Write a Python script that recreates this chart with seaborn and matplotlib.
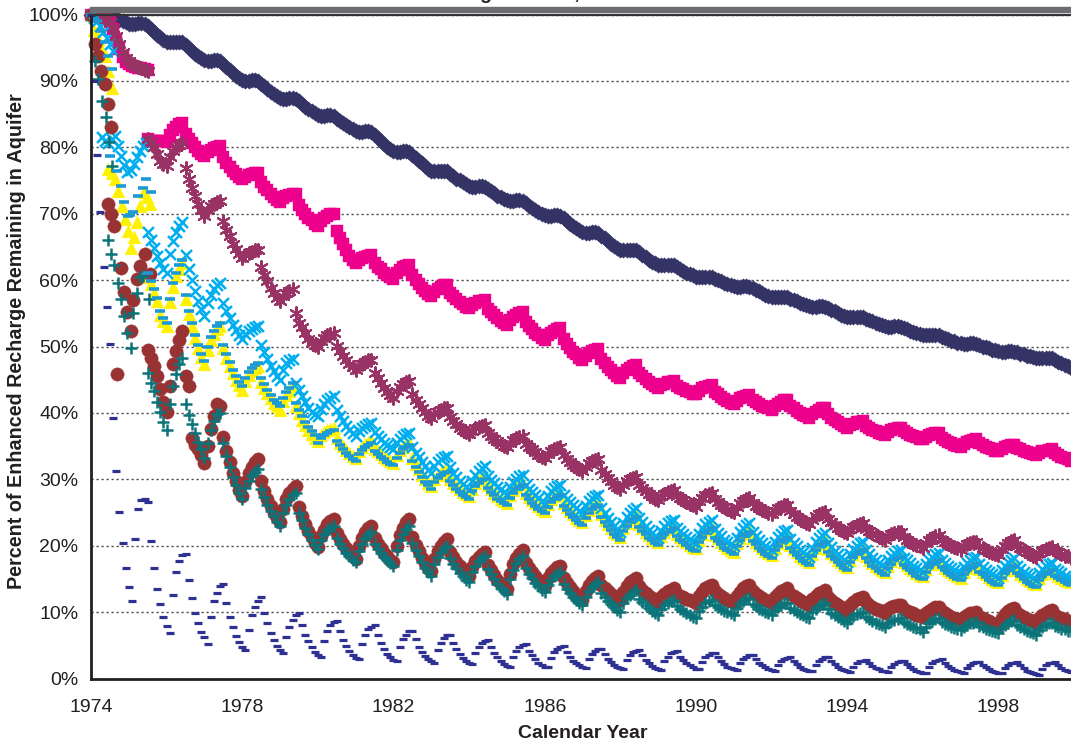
import numpy as np
import pandas as pd
import matplotlib
matplotlib.use("Agg")
import matplotlib.pyplot as plt
import seaborn as sns
from matplotlib.patches import Rectangle

START_YEAR = 1974
MAIN_START_MONTH = 18   # main segments begin July 1975

# ---------------- data (percent remaining, monthly) ----------------
navy_diamond = [
 100.0,100.0,100.0,100.0,100.0,100.0,99.9,99.6,99.4,99.2,99.0,98.8,
 98.6,98.6,98.6,98.7,98.7,98.6,98.2,97.8,97.3,96.9,96.6,96.2,
 95.9,95.8,95.8,95.9,95.9,95.8,95.4,95.0,94.5,94.1,93.8,93.4,
 93.1,93.0,93.0,93.1,93.1,93.0,92.6,92.1,91.7,91.2,90.8,90.5,
 90.1,90.0,90.0,90.1,90.1,90.0,89.6,89.2,88.8,88.4,88.1,87.7,
 87.4,87.3,87.3,87.4,87.4,87.3,86.9,86.5,86.1,85.7,85.4,85.1,
 84.8,84.7,84.7,84.8,84.8,84.7,84.3,84.0,83.6,83.3,83.0,82.7,
 82.4,82.3,82.3,82.4,82.4,82.3,81.9,81.4,81.0,80.5,80.1,79.7,
 79.4,79.3,79.3,79.4,79.4,79.3,78.9,78.4,78.0,77.6,77.2,76.8,
 76.5,76.4,76.4,76.5,76.5,76.4,76.0,75.7,75.3,75.0,74.7,74.4,
 74.1,74.0,74.0,74.1,74.1,74.0,73.7,73.4,73.1,72.7,72.5,72.2,
 72.0,71.9,71.9,72.0,72.0,71.9,71.6,71.2,70.9,70.6,70.3,70.0,
 69.8,69.7,69.7,69.8,69.8,69.7,69.3,68.9,68.5,68.1,67.8,67.5,
 67.2,67.1,67.1,67.2,67.2,67.1,66.7,66.3,65.9,65.5,65.2,64.9,
 64.6,64.5,64.5,64.6,64.6,64.5,64.2,63.8,63.5,63.1,62.8,62.5,
 62.3,62.2,62.2,62.3,62.3,62.2,61.9,61.7,61.4,61.1,60.9,60.7,
 60.5,60.4,60.4,60.5,60.5,60.4,60.2,60.0,59.8,59.6,59.4,59.2,
 59.1,59.0,59.0,59.1,59.1,59.0,58.8,58.5,58.3,58.0,57.8,57.6,
 57.5,57.4,57.4,57.5,57.5,57.4,57.2,57.0,56.8,56.6,56.4,56.2,
 56.1,56.0,56.0,56.1,56.1,56.0,55.8,55.5,55.3,55.0,54.8,54.6,
 54.5,54.4,54.4,54.5,54.5,54.4,54.2,54.0,53.8,53.6,53.4,53.2,
 53.1,53.0,53.0,53.1,53.1,53.0,52.8,52.6,52.4,52.2,52.1,51.9,
 51.8,51.7,51.7,51.8,51.8,51.7,51.5,51.3,51.1,50.9,50.8,50.6,
 50.5,50.4,50.4,50.5,50.5,50.4,50.2,50.0,49.9,49.7,49.5,49.4,
 49.3,49.2,49.2,49.3,49.3,49.2,49.1,48.9,48.8,48.6,48.5,48.4,
 48.3,48.2,48.2,48.3,48.3,48.2,48.0,47.7,47.5,47.2,47.0,46.8]

navy_dash = [
 100.0,90.0,78.8,70.2,62.0,56.0,50.4,39.3,31.3,25.1,20.4,16.7,
 13.8,11.7,21.0,25.6,26.9,27.1,26.6,20.7,16.7,13.5,11.2,9.3,
 7.9,6.9,12.6,16.0,17.7,18.6,18.8,14.9,12.1,9.9,8.4,7.0,
 6.2,5.2,9.2,11.6,12.9,14.0,14.3,11.4,9.3,7.8,6.4,5.5,
 4.8,4.3,7.3,9.5,10.8,11.7,12.2,9.9,8.3,6.9,5.8,4.9,
 4.3,3.8,6.3,7.8,8.8,9.6,9.9,8.0,6.6,5.6,4.8,4.0,
 3.5,3.2,5.7,7.2,8.0,8.5,8.7,7.1,5.8,4.9,4.1,3.5,
 3.1,2.9,5.2,6.6,7.4,7.8,8.0,6.5,5.3,4.4,3.7,3.2,
 2.8,2.6,4.7,5.9,6.6,7.1,7.2,5.9,4.8,4.0,3.4,2.9,
 2.6,2.4,4.3,5.4,6.1,6.5,6.6,5.4,4.4,3.7,3.1,2.7,
 2.4,2.2,3.8,4.8,5.4,5.7,5.8,4.7,3.8,3.2,2.6,2.2,
 1.9,1.8,3.3,4.2,4.8,5.1,5.2,4.2,3.5,2.9,2.4,2.1,
 1.8,1.7,3.1,4.0,4.5,4.8,4.9,4.0,3.3,2.7,2.3,2.0,
 1.7,1.6,2.9,3.7,4.2,4.4,4.5,3.7,3.0,2.5,2.1,1.8,
 1.6,1.5,2.8,3.5,4.0,4.2,4.3,3.5,2.8,2.3,1.9,1.6,
 1.4,1.3,2.6,3.3,3.8,4.0,4.1,3.3,2.8,2.3,2.0,1.7,
 1.5,1.4,2.5,3.2,3.6,3.8,3.9,3.2,2.6,2.2,1.8,1.6,
 1.4,1.3,2.3,3.0,3.3,3.5,3.6,2.9,2.4,2.0,1.7,1.5,
 1.3,1.2,2.1,2.6,3.0,3.1,3.2,2.6,2.2,1.8,1.5,1.3,
 1.2,1.1,2.1,2.7,3.0,3.2,3.3,2.7,2.2,1.8,1.5,1.3,
 1.1,1.0,1.8,2.3,2.6,2.7,2.8,2.3,1.9,1.6,1.4,1.2,
 1.1,1.0,1.8,2.2,2.5,2.6,2.7,2.2,1.8,1.4,1.2,1.0,
 0.9,0.8,1.7,2.3,2.6,2.8,2.9,2.3,1.9,1.6,1.3,1.1,
 1.0,0.9,1.6,2.1,2.3,2.5,2.5,2.0,1.7,1.4,1.2,1.0,
 0.9,0.8,1.6,2.0,2.3,2.4,2.5,2.0,1.6,1.2,1.0,0.8,
 0.7,0.6,1.5,2.0,2.3,2.4,2.5,2.0,1.6,1.3,1.1,1.0]

# first segments, Jan 1974 - Jul 1975 (monthly)
magenta_early = [100.0,100.0,99.9,99.8,99.6,99.3,98.8,97.8,96.3,94.8,93.6,92.9,
                 92.5,92.3,92.1,92.0,91.9,91.8,91.6]
purple_early = [100.0,100.0,99.9,99.8,99.6,99.3,98.8,98.0,96.8,95.5,94.3,93.5,
                93.0,92.6,92.3,92.1,91.9,91.7,91.5]

# irregular early points (decimal year, percent)
cyan_early_x = [1974.00,1974.08,1974.17,1974.25,1974.33,1974.42,1974.50,1974.58,
                1974.30,1974.38,1974.46,1974.55,1974.63,1974.71,1974.80,1974.88,
                1974.96,1975.05,1975.13,1975.21,1975.30,1975.38,1975.46]
cyan_early_y = [100.0,99.5,99.0,98.2,97.4,96.5,95.5,94.5,
                81.5,81.0,80.7,81.2,81.7,80.2,78.7,77.3,
                76.3,76.6,77.5,78.5,79.5,80.2,80.7]
yellow_early_x = [1974.00,1974.09,1974.18,1974.27,1974.37,1974.46,1974.55,
                  1974.46,1974.55,1974.63,1974.72,1974.81,1974.90,1974.98,1975.06,
                  1975.14,1975.22,1975.30,1975.39,1975.47,1975.56]
yellow_early_y = [100.0,97.6,96.3,95.0,93.8,91.5,89.0,
                  76.8,76.2,75.2,73.4,71.2,69.2,67.4,64.9,
                  66.5,68.7,71.2,73.2,72.5,71.4]
bluedash_early_x = [1974.00,1974.08,1974.15,1974.26,1974.37,1974.46,1974.55,
                    1974.50,1974.68,1974.79,1974.88,1974.97,1975.04,1975.12,
                    1975.25,1975.38,1975.45,1975.58]
bluedash_early_y = [100.0,99.5,99.0,97.5,95.8,93.8,91.8,
                    78.7,76.4,74.2,71.8,69.7,69.8,70.3,
                    72.6,73.9,75.3,73.2]
brown_early_x = [1974.00,1974.11,1974.19,1974.26,1974.37,1974.45,1974.53,
                 1974.44,1974.53,1974.62,1974.70,1974.79,1974.88,1974.96,1975.05,
                 1975.12,1975.21,1975.30,1975.43,1975.56]
brown_early_y = [100.0,95.6,93.8,91.5,89.5,86.5,83.0,
                 71.5,70.0,68.1,45.9,61.8,58.2,55.2,52.3,
                 57.0,60.1,62.1,63.9,60.9]
teal_early_x = [1974.00,1974.11,1974.19,1974.28,1974.39,1974.47,1974.55,
                1974.46,1974.54,1974.62,1974.71,1974.79,1974.88,1974.96,1975.05,
                1975.12,1975.21,1975.30,1975.38,1975.54]
teal_early_y = [100.0,93.0,90.3,87.0,84.5,80.8,77.2,
                66.0,64.0,62.2,59.5,57.1,54.6,52.1,49.8,
                55.1,58.1,60.4,60.6,57.2]

# main segments, Jul 1975 - Dec 1999 (monthly)
magenta_main = [
 81.2,81.0,81.0,80.9,80.9,80.9,
 80.8,81.9,82.6,83.1,83.5,83.7,82.0,81.2,80.6,80.0,79.5,79.0,
 78.7,79.3,79.6,79.9,80.1,80.2,78.5,77.7,77.1,76.5,76.0,75.5,
 75.2,75.6,75.8,76.0,76.1,76.2,74.7,74.0,73.5,72.9,72.5,72.1,
 71.8,72.3,72.6,72.8,72.9,73.0,71.3,70.6,70.0,69.4,69.0,68.5,
 68.2,68.9,69.3,69.6,69.9,70.0,67.4,66.3,65.4,64.5,63.7,63.0,
 62.5,63.0,63.3,63.5,63.7,63.8,62.5,62.0,61.6,61.1,60.8,60.5,
 60.2,61.0,61.5,61.9,62.1,62.3,60.7,60.0,59.4,58.8,58.4,57.9,
 57.6,58.2,58.7,59.0,59.2,59.3,58.1,57.6,57.1,56.7,56.4,56.0,
 55.8,56.3,56.6,56.8,56.9,57.0,55.7,55.2,54.7,54.3,53.9,53.6,
 53.3,54.0,54.5,54.8,55.0,55.2,53.7,53.1,52.6,52.1,51.7,51.3,
 51.0,51.7,52.1,52.4,52.7,52.8,51.1,50.4,49.8,49.2,48.8,48.3,
 48.0,48.6,49.0,49.3,49.5,49.6,48.1,47.5,46.9,46.4,46.0,45.6,
 45.3,46.0,46.5,46.8,47.0,47.2,46.0,45.5,45.1,44.7,44.3,44.0,
 43.8,44.2,44.4,44.6,44.7,44.8,44.1,43.8,43.6,43.3,43.1,42.9,
 42.8,43.3,43.7,43.9,44.1,44.2,43.2,42.8,42.4,42.1,41.8,41.5,
 41.3,41.8,42.2,42.4,42.6,42.7,41.9,41.6,41.3,41.1,40.9,40.7,
 40.5,41.1,41.4,41.7,41.9,42.0,41.1,40.7,40.3,40.0,39.7,39.5,
 39.3,39.9,40.2,40.5,40.7,40.8,39.8,39.3,38.9,38.6,38.3,38.0,
 37.8,38.2,38.4,38.6,38.7,38.8,38.1,37.8,37.5,37.2,37.0,36.8,
 36.7,37.1,37.4,37.6,37.7,37.8,37.2,36.9,36.7,36.5,36.3,36.1,
 36.0,36.4,36.6,36.8,36.9,37.0,36.2,35.9,35.6,35.4,35.2,35.0,
 34.8,35.3,35.6,35.8,35.9,36.0,35.4,35.1,34.9,34.7,34.5,34.3,
 34.2,34.6,34.8,35.0,35.1,35.2,34.7,34.5,34.3,34.1,33.9,33.8,
 33.7,34.0,34.2,34.3,34.4,34.5,33.9,33.6,33.4,33.2,33.0,32.8]

purple_main = [
 81.2,80.8,80.0,79.0,78.0,77.5,
 77.2,78.5,79.4,80.0,80.4,80.7,76.9,75.2,73.9,72.6,71.5,70.5,
 69.7,70.5,71.1,71.5,71.7,71.9,68.9,67.6,66.6,65.5,64.7,63.9,
 63.3,63.8,64.1,64.3,64.5,64.6,61.9,60.7,59.8,58.8,58.0,57.3,
 56.8,57.6,58.1,58.4,58.6,55.0,53.5,53.0,52.0,51.2,50.6,50.2,
 50.0,50.8,51.3,51.7,51.9,52.1,50.1,49.3,48.6,48.0,47.4,46.9,
 46.5,47.1,47.4,47.7,47.9,48.0,46.0,45.2,44.5,43.8,43.2,42.7,
 42.3,43.3,43.9,44.3,44.6,44.8,42.8,42.0,41.3,40.7,40.1,39.6,
 39.2,39.8,40.2,40.5,40.7,40.8,39.4,38.8,38.3,37.8,37.4,37.1,
 36.8,37.3,37.7,37.9,38.1,38.2,37.0,36.5,36.1,35.7,35.3,35.0,
 34.8,35.4,35.9,36.2,36.4,36.5,35.3,34.9,34.5,34.1,33.7,33.4,
 33.2,33.8,34.2,34.5,34.7,34.8,33.6,33.1,32.6,32.2,31.9,31.5,
 31.3,31.9,32.4,32.7,32.9,33.0,31.4,30.8,30.2,29.7,29.2,28.8,
 28.5,29.2,29.7,30.0,30.2,30.4,29.2,28.7,28.2,27.8,27.5,27.1,
 26.9,27.5,27.8,28.1,28.3,28.4,27.5,27.2,26.9,26.6,26.3,26.1,
 25.9,26.7,27.2,27.6,27.8,28.0,27.0,26.6,26.2,25.9,25.6,25.3,
 25.1,25.9,26.4,26.8,27.0,27.2,26.4,26.0,25.7,25.4,25.2,25.0,
 24.8,25.3,25.7,25.9,26.1,26.2,25.2,24.7,24.3,24.0,23.7,23.4,
 23.2,23.9,24.4,24.7,24.9,25.1,24.0,23.5,23.1,22.7,22.4,22.1,
 21.9,22.5,22.8,23.1,23.3,23.4,22.5,22.2,21.9,21.6,21.3,21.1,
 20.9,21.4,21.7,21.9,22.0,22.1,21.3,20.9,20.6,20.3,20.1,19.9,
 19.7,20.4,20.9,21.2,21.4,21.6,20.8,20.5,20.2,20.0,19.8,19.6,
 19.4,19.9,20.2,20.4,20.5,20.6,19.9,19.6,19.4,19.1,18.9,18.7,
 18.6,19.5,20.0,20.4,20.7,20.9,20.0,19.6,19.3,19.0,18.7,18.5,
 18.3,18.9,19.2,19.5,19.7,19.8,19.2,19.0,18.7,18.5,18.4,18.2]

cyan_main = [
 67.2,66.0,64.8,63.6,62.5,61.6,
 61.0,63.9,65.9,67.2,68.1,68.7,63.8,61.7,60.0,58.3,56.9,55.6,
 54.6,56.5,57.8,58.6,59.2,59.6,56.6,55.4,54.3,53.3,52.5,51.7,
 51.1,51.9,52.4,52.7,52.9,53.1,50.3,49.1,48.1,47.1,46.3,45.6,
 45.0,46.5,47.5,48.0,48.1,44.5,43.5,42.5,41.6,40.8,40.2,39.8,
 39.5,40.6,41.4,41.9,42.3,42.5,40.4,39.5,38.8,38.1,37.5,36.9,
 36.5,37.3,37.8,38.1,38.3,38.5,37.1,36.5,36.0,35.5,35.1,34.8,
 34.5,35.5,36.1,36.5,36.8,37.0,34.9,34.0,33.3,32.6,32.0,31.4,
 31.0,32.0,32.6,33.0,33.3,33.5,31.8,31.0,30.4,29.8,29.3,28.9,
 28.5,29.8,30.7,31.3,31.7,32.0,30.5,29.9,29.4,28.9,28.5,28.1,
 27.8,28.9,29.6,30.1,30.5,30.7,29.2,28.6,28.1,27.6,27.2,26.8,
 26.5,27.5,28.2,28.7,29.0,29.2,27.7,27.1,26.6,26.1,25.7,25.3,
 25.0,26.0,26.7,27.2,27.5,27.7,25.7,24.9,24.2,23.5,22.9,22.4,
 22.0,23.4,24.3,25.0,25.4,25.7,24.1,23.5,22.9,22.4,21.9,21.5,
 21.2,22.2,22.9,23.4,23.7,23.9,22.7,22.2,21.7,21.3,21.0,20.6,
 20.4,21.7,22.6,23.2,23.6,23.9,22.5,21.9,21.4,20.9,20.5,20.2,
 19.9,21.2,22.1,22.7,23.1,23.4,22.0,21.4,20.9,20.4,20.0,19.7,
 19.4,20.5,21.3,21.8,22.2,22.4,21.0,20.4,19.9,19.4,19.0,18.6,
 18.3,19.7,20.6,21.2,21.6,21.9,20.4,19.8,19.2,18.7,18.3,17.9,
 17.6,18.7,19.5,20.0,20.4,20.6,19.3,18.7,18.2,17.8,17.4,17.1,
 16.8,17.8,18.4,18.9,19.2,19.4,18.2,17.8,17.4,17.0,16.6,16.3,
 16.1,17.2,17.9,18.3,18.7,18.9,17.9,17.4,17.0,16.7,16.4,16.1,
 15.9,16.8,17.4,17.8,18.1,18.3,17.2,16.8,16.4,16.0,15.7,15.4,
 15.2,16.3,17.0,17.5,17.9,18.1,17.0,16.5,16.1,15.7,15.4,15.1,
 14.9,15.9,16.5,16.9,17.2,17.4,16.5,16.2,15.9,15.5,15.3,15.0]

yellow_main = [
 60.5,59.4,58.1,56.8,54.8,53.8,
 53.1,56.7,59.0,60.6,61.7,62.5,57.2,54.9,53.1,51.3,49.7,48.4,
 47.3,49.5,51.0,51.9,52.6,53.1,49.7,48.3,47.1,46.0,45.0,44.2,
 43.5,44.8,45.7,46.3,46.7,47.0,44.7,43.8,43.0,42.2,41.5,41.0,
 40.5,41.8,42.7,43.3,44.0,41.0,40.0,39.0,38.2,37.4,36.8,36.2,
 35.8,36.6,37.1,37.4,37.6,37.8,36.2,35.5,35.0,34.4,33.9,33.5,
 33.2,34.2,34.8,35.3,35.6,35.8,34.6,34.2,33.8,33.4,33.0,32.7,
 32.5,33.6,34.4,34.9,35.3,35.5,33.2,32.3,31.5,30.7,30.0,29.5,
 29.0,30.0,30.6,31.0,31.3,31.5,30.1,29.5,29.0,28.5,28.1,27.8,
 27.5,28.6,29.4,29.9,30.3,30.5,29.1,28.5,28.0,27.5,27.1,26.8,
 26.5,27.6,28.4,28.9,29.3,29.5,28.0,27.4,26.9,26.4,26.0,25.6,
 25.3,26.3,27.0,27.5,27.8,28.0,26.4,25.8,25.2,24.7,24.2,23.8,
 23.5,24.6,25.4,25.9,26.3,26.5,24.7,23.9,23.3,22.7,22.1,21.7,
 21.3,22.6,23.4,24.0,24.4,24.7,23.2,22.6,22.1,21.6,21.2,20.8,
 20.5,21.5,22.1,22.5,22.8,23.0,21.8,21.3,20.9,20.5,20.1,19.8,
 19.6,20.9,21.7,22.3,22.7,23.0,21.6,21.1,20.6,20.1,19.7,19.4,
 19.1,20.4,21.2,21.8,22.2,22.5,21.1,20.6,20.1,19.6,19.2,18.9,
 18.6,19.7,20.4,20.9,21.3,21.5,20.1,19.5,19.0,18.5,18.1,17.8,
 17.5,18.8,19.7,20.3,20.7,21.0,19.5,18.9,18.4,17.9,17.5,17.1,
 16.8,17.9,18.7,19.2,19.6,19.8,18.5,17.9,17.4,17.0,16.6,16.3,
 16.0,17.0,17.7,18.2,18.5,18.7,17.5,17.1,16.7,16.3,15.9,15.6,
 15.4,16.5,17.2,17.6,18.0,18.2,17.2,16.7,16.3,16.0,15.7,15.4,
 15.2,16.1,16.7,17.1,17.4,17.6,16.5,16.1,15.7,15.3,15.0,14.7,
 14.5,15.6,16.3,16.8,17.2,17.4,16.3,15.8,15.4,15.0,14.7,14.4,
 14.2,15.2,15.8,16.2,16.5,16.7,15.9,15.5,15.2,14.9,14.7,14.5]

bluedash_main = [
 61.0,59.9,58.6,57.3,55.3,54.3,
 53.6,57.2,59.5,61.1,62.2,63.0,57.7,55.4,53.6,51.8,50.2,48.9,
 47.8,50.0,51.5,52.4,53.1,53.6,50.2,48.8,47.6,46.5,45.5,44.7,
 44.0,45.3,46.2,46.8,47.2,47.5,45.2,44.3,43.5,42.7,42.0,41.5,
 41.0,42.3,43.2,43.8,44.5,41.5,40.5,39.5,38.7,37.9,37.3,36.7,
 35.4,36.2,36.7,37.0,37.2,37.4,35.8,35.1,34.6,34.0,33.5,33.1,
 32.8,33.8,34.4,34.9,35.2,35.4,34.2,33.8,33.4,33.0,32.6,32.3,
 32.1,33.2,34.0,34.5,34.9,35.1,32.8,31.9,31.1,30.3,29.6,29.1,
 28.6,29.6,30.2,30.6,30.9,31.1,29.7,29.1,28.6,28.1,27.7,27.4,
 27.1,28.2,29.0,29.5,29.9,30.1,28.7,28.1,27.6,27.1,26.7,26.4,
 26.1,27.2,28.0,28.5,28.9,29.1,27.6,27.0,26.5,26.0,25.6,25.2,
 24.9,25.9,26.6,27.1,27.4,27.6,26.0,25.4,24.8,24.3,23.8,23.4,
 23.1,24.2,25.0,25.5,25.9,26.1,24.3,23.5,22.9,22.3,21.7,21.3,
 20.9,22.2,23.0,23.6,24.0,24.3,22.8,22.2,21.7,21.2,20.8,20.4,
 20.1,21.1,21.7,22.1,22.4,22.6,21.4,20.9,20.5,20.1,19.7,19.4,
 19.2,20.5,21.3,21.9,22.3,22.6,21.2,20.7,20.2,19.7,19.3,19.0,
 18.7,20.0,20.8,21.4,21.8,22.1,20.7,20.2,19.7,19.2,18.8,18.5,
 18.2,19.3,20.0,20.5,20.9,21.1,19.7,19.1,18.6,18.1,17.7,17.4,
 17.1,18.4,19.3,19.9,20.3,20.6,19.1,18.5,18.0,17.5,17.1,16.7,
 16.4,17.5,18.3,18.8,19.2,19.4,18.1,17.5,17.0,16.6,16.2,15.9,
 15.6,16.6,17.3,17.8,18.1,18.3,17.1,16.7,16.3,15.9,15.5,15.2,
 15.0,16.1,16.8,17.2,17.6,17.8,16.8,16.3,15.9,15.6,15.3,15.0,
 14.8,15.7,16.3,16.7,17.0,17.2,16.1,15.7,15.3,14.9,14.6,14.3,
 14.1,15.2,15.9,16.4,16.8,17.0,15.9,15.4,15.0,14.6,14.3,14.0,
 13.8,14.8,15.4,15.8,16.1,16.3,15.5,15.1,14.8,14.5,14.3,14.1]

brown_main = [
 49.5,48.3,47.0,45.5,43.6,41.7,
 40.2,44.0,47.3,49.3,51.0,52.3,45.5,44.0,36.2,35.2,34.5,33.6,
 32.5,35.0,37.6,39.5,41.3,41.0,36.3,34.3,32.6,31.0,29.7,28.4,
 27.5,29.6,31.0,31.9,32.6,33.0,29.7,28.3,27.1,26.0,25.0,24.2,
 23.5,25.6,27.0,27.9,28.6,29.0,25.8,24.4,23.3,22.2,21.3,20.4,
 19.8,21.4,22.4,23.2,23.7,24.0,21.9,21.0,20.3,19.6,19.0,18.4,
 18.0,19.9,21.2,22.0,22.6,23.0,21.1,20.3,19.6,18.9,18.4,17.9,
 17.5,20.0,21.6,22.7,23.5,24.0,21.3,20.1,19.2,18.2,17.4,16.7,
 16.2,18.0,19.2,20.0,20.6,21.0,19.1,18.3,17.6,16.9,16.4,15.9,
 15.5,16.8,17.7,18.3,18.7,19.0,17.1,16.3,15.6,14.9,14.4,13.9,
 13.5,15.7,17.2,18.1,18.8,19.3,17.4,16.7,16.0,15.4,14.8,14.4,
 14.0,15.1,15.9,16.4,16.8,17.0,15.2,14.4,13.8,13.2,12.6,12.2,
 11.8,13.2,14.1,14.7,15.1,15.4,14.1,13.6,13.2,12.7,12.4,12.1,
 11.8,13.1,13.9,14.5,14.9,15.2,13.9,13.4,12.9,12.5,12.1,11.8,
 11.5,12.3,12.8,13.2,13.4,13.6,12.8,12.5,12.2,12.0,11.8,11.6,
 11.4,12.4,13.1,13.6,13.9,14.1,13.2,12.8,12.4,12.1,11.8,11.6,
 11.4,12.4,13.1,13.6,13.9,14.1,13.2,12.8,12.4,12.1,11.8,11.6,
 11.4,12.2,12.8,13.2,13.4,13.6,12.7,12.4,12.1,11.8,11.5,11.3,
 11.1,11.9,12.5,12.9,13.1,13.3,12.2,11.8,11.4,11.0,10.7,10.4,
 10.2,11.0,11.5,11.9,12.1,12.3,11.5,11.1,10.8,10.5,10.3,10.1,
 9.9,10.4,10.7,10.9,11.0,11.1,10.5,10.2,10.0,9.8,9.6,9.4,
 9.3,9.9,10.2,10.5,10.7,10.8,10.1,9.8,9.6,9.3,9.1,8.9,
 8.8,9.3,9.6,9.8,9.9,10.0,9.3,9.1,8.8,8.6,8.4,8.2,
 8.1,9.1,9.7,10.1,10.4,10.6,9.8,9.5,9.2,9.0,8.8,8.6,
 8.4,9.1,9.6,9.9,10.1,10.3,9.6,9.3,9.1,8.9,8.7,8.5]

teal_main = [
 46.0,44.5,43.3,41.7,40.2,38.7,
 37.5,41.3,44.1,45.9,47.3,48.3,41.3,39.7,38.4,37.0,35.6,34.5,
 33.2,35.5,37.5,38.8,39.8,40.0,35.5,33.5,31.9,30.4,29.1,27.9,
 27.0,28.7,29.8,30.6,31.1,31.5,28.5,27.3,26.2,25.2,24.4,23.6,
 23.0,24.9,26.2,27.0,27.6,28.0,25.0,23.8,22.7,21.7,20.9,20.1,
 19.5,20.8,21.7,22.3,22.7,23.0,21.1,20.3,19.6,18.9,18.4,17.9,
 17.5,19.2,20.3,21.1,21.6,22.0,20.3,19.5,18.9,18.3,17.8,17.4,
 17.0,19.3,20.8,21.8,22.5,23.0,20.4,19.3,18.4,17.5,16.7,16.0,
 15.5,17.2,18.3,19.1,19.6,20.0,18.1,17.3,16.6,15.9,15.4,14.9,
 14.5,16.0,17.0,17.7,18.2,18.5,16.5,15.7,15.0,14.3,13.7,13.2,
 12.8,15.0,16.4,17.4,18.0,18.5,16.6,15.8,15.1,14.4,13.9,13.4,
 13.0,14.1,14.9,15.4,15.8,16.0,14.3,13.5,12.9,12.3,11.8,11.4,
 11.0,12.3,13.2,13.8,14.2,14.5,12.9,12.3,11.7,11.2,10.7,10.3,
 10.0,11.3,12.1,12.6,13.0,13.3,12.0,11.5,11.0,10.6,10.2,9.9,
 9.6,10.4,11.0,11.4,11.6,11.8,10.9,10.5,10.1,9.8,9.5,9.3,
 9.1,10.1,10.8,11.3,11.6,11.8,11.0,10.7,10.4,10.2,10.0,9.8,
 9.6,10.6,11.2,11.6,11.9,12.1,11.2,10.9,10.5,10.3,10.0,9.8,
 9.6,10.3,10.7,11.0,11.3,11.4,10.6,10.3,10.0,9.7,9.5,9.3,
 9.1,10.0,10.5,10.9,11.2,11.4,10.4,9.9,9.5,9.2,8.9,8.6,
 8.4,9.0,9.4,9.7,9.9,10.0,9.2,8.9,8.6,8.4,8.2,8.0,
 7.8,8.3,8.6,8.8,9.0,9.1,8.5,8.2,8.0,7.8,7.6,7.4,
 7.0,7.8,8.3,8.7,8.9,9.1,8.5,8.2,8.0,7.8,7.6,7.4,
 7.3,7.8,8.1,8.3,8.4,8.5,7.9,7.7,7.5,7.3,7.2,7.0,
 6.9,7.6,8.1,8.4,8.6,8.8,8.0,7.7,7.4,7.2,7.0,6.8,
 6.6,7.3,7.7,8.0,8.3,8.4,7.9,7.7,7.5,7.4,7.2,7.1]

y_ticks = list(range(0, 101, 10))
y_tick_labels = [f"{v}%" for v in y_ticks]
x_major = list(range(1974, 1999, 4))
x_minor = list(range(1976, 2001, 4))


def monthly_x(n, start=0):
    return START_YEAR + (start + np.arange(n)) / 12.0


def frame(x, y):
    return pd.DataFrame({"year": np.asarray(x, float), "pct": np.asarray(y, float)})


# (data, style) in drawing order
series = [
    ([frame(monthly_x(len(navy_diamond)), navy_diamond)],
     dict(marker="D", s=62, color="#333366", lw=0.0)),
    ([frame(monthly_x(len(magenta_early)), magenta_early),
      frame(monthly_x(len(magenta_main), MAIN_START_MONTH), magenta_main)],
     dict(marker="s", s=78, color="#EC008C", lw=0.0)),
    ([frame(yellow_early_x, yellow_early_y),
      frame(monthly_x(len(yellow_main), MAIN_START_MONTH), yellow_main)],
     dict(marker="^", s=85, color="#FFF200", lw=0.0)),
    ([frame(cyan_early_x, cyan_early_y),
      frame(monthly_x(len(cyan_main), MAIN_START_MONTH), cyan_main)],
     dict(marker="x", s=62, color="#00AEEF", lw=1.8)),
    ([frame(monthly_x(len(purple_early)), purple_early),
      frame(monthly_x(len(purple_main), MAIN_START_MONTH), purple_main)],
     dict(marker=(6, 2, 0), s=85, color="#993366", lw=1.5)),
    ([frame(brown_early_x, brown_early_y),
      frame(monthly_x(len(brown_main), MAIN_START_MONTH), brown_main)],
     dict(marker="o", s=92, color="#993333", lw=0.0)),
    ([frame(teal_early_x, teal_early_y),
      frame(monthly_x(len(teal_main), MAIN_START_MONTH), teal_main)],
     dict(marker="+", s=68, color="#0A7479", lw=1.8)),
    ([frame(bluedash_early_x, bluedash_early_y),
      frame(monthly_x(len(bluedash_main), MAIN_START_MONTH), bluedash_main)],
     dict(marker="_", s=42, color="#1B9AD6", lw=2.6)),
    ([frame(monthly_x(len(navy_dash)), navy_dash)],
     dict(marker="_", s=28, color="#2E3192", lw=2.3)),
]

sns.set_style("white")
plt.rcParams["font.family"] = ["Liberation Sans", "DejaVu Sans"]

W, H = 1071, 742
fig = plt.figure(figsize=(W / 100, H / 100), dpi=100)
ax = fig.add_axes([91 / W, 63.5 / H, 983 / W, 664 / H])

for parts, st in series:
    df = pd.concat(parts, ignore_index=True)
    filled = st["marker"] in ("D", "s", "^", "o")
    kw = dict(x="year", y="pct", data=df, ax=ax, marker=st["marker"], s=st["s"],
              color=st["color"], legend=False, clip_on=False)
    if filled:
        kw.update(edgecolor=st["color"], linewidth=0.3)
    else:
        kw.update(edgecolor=st["color"], linewidth=st["lw"])
    sns.scatterplot(**kw)

ax.set_xlim(1974, 2000)
ax.set_ylim(0, 100)
ax.set_yticks(y_ticks)
ax.set_yticklabels(y_tick_labels)
ax.set_xticks(x_major)
ax.set_xticks(x_minor, minor=True)
ax.set_xticklabels([str(v) for v in x_major])

ax.yaxis.grid(True, linestyle=(0, (1.6, 2.0)), color="#4d4d4d", linewidth=1.0)
ax.xaxis.grid(False)
ax.set_axisbelow(True)

for side in ("left", "bottom"):
    ax.spines[side].set_color("#231f20")
    ax.spines[side].set_linewidth(2.0)
ax.spines["top"].set_color("#333333")
ax.spines["top"].set_linewidth(1.6)
ax.spines["right"].set_visible(False)

ax.tick_params(axis="x", which="both", direction="out", length=7, width=1.2,
               color="#231f20", labelsize=14, pad=7.5, labelcolor="#231f20")
ax.tick_params(axis="y", which="major", direction="out", length=5, width=1.2,
               color="#231f20", labelsize=14, pad=4, labelcolor="#231f20")

ax.set_xlabel("Calendar Year", fontsize=14, fontweight="bold", color="#231f20")
ax.set_ylabel("Percent of Enhanced Recharge Remaining in Aquifer", fontsize=14.2,
              fontweight="bold", color="#231f20")
ax.xaxis.set_label_coords(0.5005, -0.070)
ax.yaxis.set_label_coords(-0.066, 0.508)

# grey header bar above the plot frame
fig.patches.append(Rectangle((90 / W, (H - 12) / H), 1 - 90 / W, 5 / H,
                             transform=fig.transFigure, color="#6d6e71", zorder=0))
# title, cut off by the top edge exactly as in the source image
fig.text(246 / W, (H + 1) / H, "Fate of Enhanced Recharge in 1974, All Scenarios",
         ha="left", va="baseline", fontsize=14, fontweight="bold", color="#231f20")

fig.savefig("out.png", dpi=100)
